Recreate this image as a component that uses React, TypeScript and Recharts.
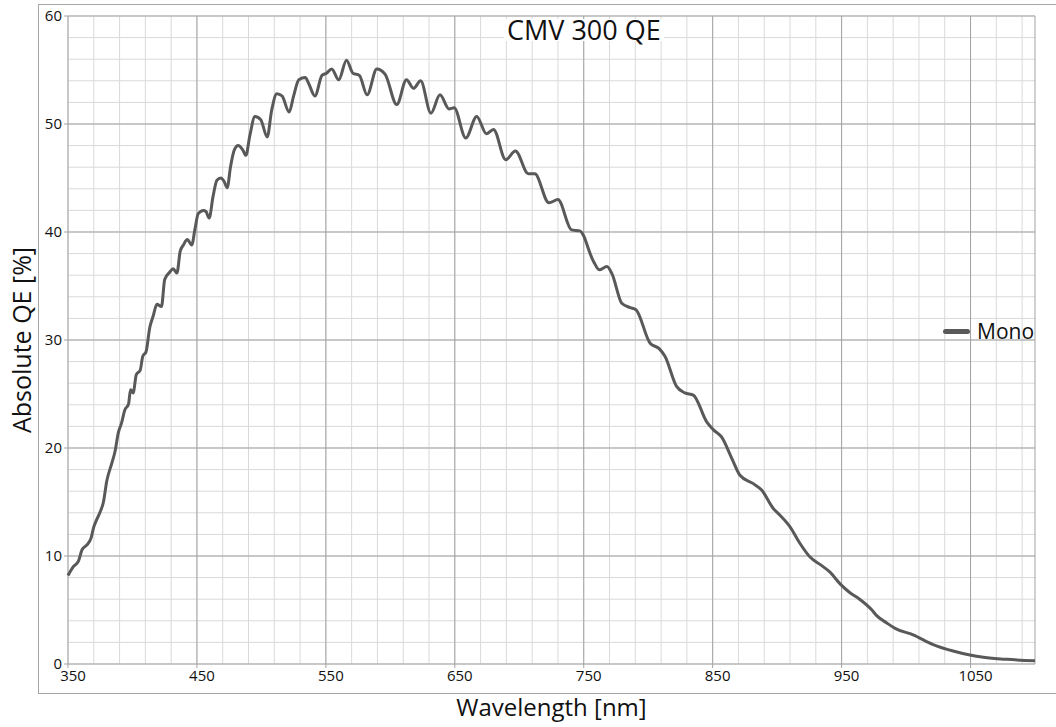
import React from 'react';
import { LineChart, Line, XAxis, YAxis, CartesianGrid, Label } from 'recharts';

// wavelength [nm] and absolute QE [%]
const wavelengths = [
  350, 354, 358, 361, 364.5, 368, 370, 372, 375, 377.5, 380, 384, 386.5, 389, 391.5, 394, 397, 398.5, 400.5,
  403, 406, 408, 410.5, 413.5, 416, 419, 422.5, 425, 429, 431.5, 434.5, 437, 439.5, 442.5, 446, 448.5, 451,
  455, 457, 459.5, 462.5, 465.5, 468.5, 471, 473.5, 476, 479, 482, 485.5, 488, 491, 495, 499.5, 504.5, 508,
  512, 516, 521.5, 525, 529, 534, 536.5, 541.5, 547, 550.5, 554.5, 560, 566, 571, 576, 582, 589.5, 596, 605,
  612.5, 618, 623.5, 631.5, 638.5, 645.5, 649.5, 658.5, 667, 674.5, 680, 689.5, 697, 707, 712, 723, 730,
  740.5, 747, 757.5, 762, 768, 772, 779.5, 786, 790.5, 801.5, 808.5, 813, 822, 828.5, 835, 845.5, 850.5, 857,
  865, 871, 881.5, 888, 897, 902, 910, 917.5, 925.5, 933.5, 941, 949, 956.5, 964, 973.5, 977, 985, 991.5,
  1005.5, 1021, 1036.5, 1049.5, 1060, 1078, 1100,
];
const monoQE = [
  8.2, 9.0, 9.5, 10.6, 11.0, 11.7, 12.7, 13.3, 14.1, 15.0, 16.9, 18.6, 19.7, 21.4, 22.3, 23.5, 24.1, 25.4, 25.1,
  26.8, 27.2, 28.5, 28.9, 31.2, 32.2, 33.3, 33.1, 35.6, 36.3, 36.6, 36.2, 38.2, 38.8, 39.3, 38.8, 40.3, 41.7,
  42.0, 41.9, 41.3, 43.3, 44.8, 45.0, 44.7, 44.1, 46.0, 47.6, 48.0, 47.6, 47.1, 48.9, 50.7, 50.4, 48.8, 51.3,
  52.8, 52.6, 51.1, 52.6, 54.1, 54.3, 53.8, 52.6, 54.5, 54.7, 55.1, 54.1, 55.9, 54.7, 54.5, 52.7, 55.1, 54.6, 51.8,
  54.1, 53.3, 54.0, 51.0, 52.7, 51.4, 51.5, 48.7, 50.7, 49.1, 49.5, 46.7, 47.5, 45.4, 45.4, 42.7, 43.0,
  40.2, 40.1, 37.3, 36.5, 36.8, 36.1, 33.4, 33.0, 32.8, 29.7, 29.2, 28.5, 25.7, 25.1, 24.9, 22.4, 21.7, 21.0,
  19.0, 17.5, 16.7, 16.1, 14.4, 13.8, 12.7, 11.2, 9.9, 9.2, 8.5, 7.4, 6.6, 6.0, 5.0, 4.5, 3.8, 3.3,
  2.7, 1.8, 1.2, 0.83, 0.62, 0.43, 0.31,
];

const xTicks = [350, 450, 550, 650, 750, 850, 950, 1050];
const yTicks = [0, 10, 20, 30, 40, 50, 60];
const xMinor = [350, 370, 390, 410, 430, 450, 470, 490, 510, 530, 550, 570, 590, 610, 630, 650, 670, 690, 710, 730,
  750, 770, 790, 810, 830, 850, 870, 890, 910, 930, 950, 970, 990, 1010, 1030, 1050, 1070, 1090];
const yMinor = [0, 2, 4, 6, 8, 10, 12, 14, 16, 18, 20, 22, 24, 26, 28, 30, 32, 34, 36, 38, 40, 42, 44, 46, 48, 50,
  52, 54, 56, 58, 60];

const data = wavelengths.map((w, i) => ({ w, qe: monoQE[i] }));

const FONT = "'Open Sans', sans-serif";
const TEXT = '#111';
const LINE = '#595959';

const XTick = (props: any) => {
  const { x, y, payload } = props;
  return (
    <text x={x + 5} y={y} dy="0.71em" textAnchor="middle" fontSize={15} fill={TEXT}>
      {payload.value}
    </text>
  );
};

export default function App() {
  return (
    <div style={{ position: 'absolute', left: 0, top: 0, width: 1056, height: 727, overflow: 'hidden', background: '#fff', fontFamily: FONT }}>
      <div style={{ position: 'absolute', left: 38, top: 4, width: 1100, height: 688, border: '1px solid #a6a6a6' }} />
      <LineChart width={1056} height={727} data={data} margin={{ top: 16, right: 21, left: 8, bottom: 3 }}>
        <CartesianGrid stroke="#d9d9d9" verticalValues={xMinor} horizontalValues={yMinor} />
        <CartesianGrid stroke="#a3a3a3" />
        <XAxis
          dataKey="w"
          type="number"
          domain={[350, 1100]}
          ticks={xTicks}
          interval={0}
          height={60}
          axisLine={false}
          tickSize={4}
          tickLine={{ stroke: '#a3a3a3' }}
          tick={<XTick />}
        >
          <Label value="Wavelength [nm]" position="insideBottom" offset={8} style={{ fontSize: 24, fill: TEXT }} />
        </XAxis>
        <YAxis
          type="number"
          domain={[0, 60]}
          ticks={yTicks}
          interval={0}
          width={60}
          axisLine={false}
          tickSize={4}
          tickLine={{ stroke: '#a3a3a3' }}
          tick={{ fontSize: 15, fill: TEXT }}
        >
          <Label value="Absolute QE [%]" angle={-90} position="insideLeft" offset={14} style={{ fontSize: 25, fill: TEXT, textAnchor: 'middle' }} />
        </YAxis>
        <Line
          type="monotone"
          dataKey="qe"
          name="Mono"
          stroke={LINE}
          strokeWidth={3}
          dot={false}
          isAnimationActive={false}
        />
      </LineChart>
      <div style={{ position: 'absolute', left: 504, top: 19, padding: '0 3px', background: '#fff', fontSize: 27, lineHeight: '22px', height: 22, color: TEXT }}>
        CMV 300 QE
      </div>
      <div style={{ position: 'absolute', left: 943, top: 317, display: 'flex', alignItems: 'center', fontSize: 21, color: TEXT, whiteSpace: 'nowrap' }}>
        <span style={{ display: 'inline-block', width: 27, height: 5, borderRadius: 3, background: LINE, marginRight: 7 }} />
        <span>Mono</span>
      </div>
    </div>
  );
}
